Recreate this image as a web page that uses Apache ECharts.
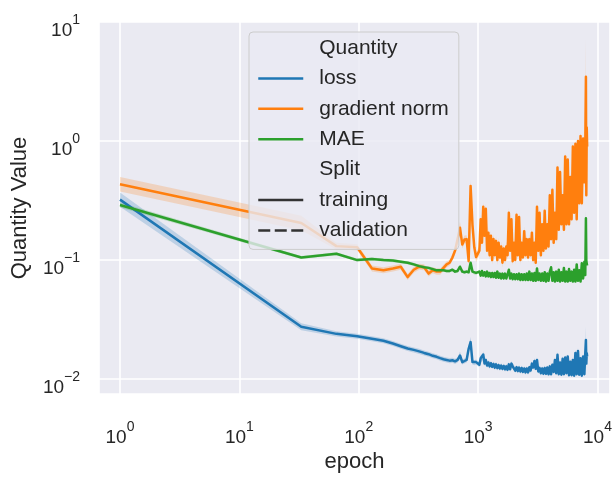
<!DOCTYPE html>
<html><head><meta charset="utf-8">
<script src="https://cdn.jsdelivr.net/npm/echarts@6/dist/echarts.min.js"></script>
<style>html,body{margin:0;padding:0;background:#fff}#c{width:616px;height:478px}</style>
</head><body><div id="c"></div>
<script>
// ---------------- data ----------------
const epochs = [
  1, 33, 65, 97, 129, 161, 193, 225, 257, 289,
  321, 353, 385, 417, 449, 481, 513, 545, 577, 609,
  641, 673, 705, 737, 769, 801, 833, 865, 897, 929,
  961, 1025, 1051, 1077, 1104, 1132, 1160, 1189, 1219, 1249,
  1280, 1312, 1345, 1379, 1413, 1449, 1485, 1522, 1560, 1599,
  1639, 1680, 1722, 1765, 1809, 1854, 1901, 1948, 1997, 2047,
  2098, 2150, 2204, 2259, 2316, 2374, 2433, 2494, 2556, 2620,
  2686, 2753, 2822, 2892, 2964, 3038, 3114, 3192, 3272, 3354,
  3438, 3524, 3612, 3702, 3795, 3890, 3987, 4087, 4189, 4294,
  4401, 4511, 4624, 4740, 4858, 4980, 5104, 5232, 5363, 5497,
  5634, 5775, 5919, 6067, 6219, 6374, 6534, 6697, 6865, 7036,
  7212, 7392, 7577, 7767, 7900, 8000, 8060, 8130, 8193
];
const lossValues = [
  0.322, 0.0275, 0.024, 0.0229, 0.0218, 0.021, 0.0199, 0.0189, 0.0181, 0.0176,
  0.0171, 0.0166, 0.0162, 0.0157, 0.0154, 0.015, 0.0147, 0.0145, 0.0143, 0.0144,
  0.0141, 0.0145, 0.0158, 0.0139, 0.0142, 0.0145, 0.018, 0.0205, 0.0139, 0.0137,
  0.0139, 0.0132, 0.015, 0.0145, 0.0161, 0.0135, 0.0145, 0.013, 0.0138, 0.0128,
  0.0136, 0.0127, 0.0134, 0.0125, 0.0133, 0.0124, 0.0131, 0.0123, 0.013, 0.0122,
  0.0129, 0.0121, 0.0128, 0.012, 0.0133, 0.0121, 0.0135, 0.0128, 0.0125, 0.0118,
  0.0126, 0.0117, 0.0125, 0.0116, 0.0124, 0.0115, 0.0123, 0.0114, 0.0123, 0.0114,
  0.0126, 0.0118, 0.0135, 0.0125, 0.0142, 0.0122, 0.0145, 0.0116, 0.0124, 0.0112,
  0.0123, 0.0111, 0.0124, 0.0111, 0.0125, 0.011, 0.0128, 0.011, 0.0132, 0.0115,
  0.0145, 0.0112, 0.016, 0.011, 0.0138, 0.0109, 0.0148, 0.011, 0.0152, 0.0112,
  0.0155, 0.0108, 0.014, 0.0108, 0.0145, 0.0107, 0.0166, 0.011, 0.0172, 0.0109,
  0.015, 0.0107, 0.0155, 0.011, 0.0165, 0.0213, 0.0135, 0.0165, 0.0155
];
const lossCI = [
  1.15, 1.07, 1.05, 1.05, 1.05, 1.05, 1.05, 1.05, 1.05, 1.05,
  1.05, 1.05, 1.05, 1.05, 1.05, 1.05, 1.05, 1.05, 1.05, 1.05,
  1.05, 1.05, 1.08, 1.05, 1.05, 1.05, 1.08, 1.1, 1.05, 1.05,
  1.05, 1.05, 1.06, 1.05, 1.07, 1.05, 1.05, 1.05, 1.05, 1.05,
  1.05, 1.05, 1.05, 1.05, 1.05, 1.05, 1.05, 1.05, 1.05, 1.05,
  1.05, 1.05, 1.05, 1.05, 1.05, 1.05, 1.05, 1.05, 1.05, 1.05,
  1.05, 1.05, 1.05, 1.05, 1.05, 1.05, 1.05, 1.05, 1.05, 1.05,
  1.05, 1.05, 1.05, 1.05, 1.06, 1.05, 1.06, 1.05, 1.05, 1.05,
  1.05, 1.05, 1.05, 1.05, 1.05, 1.05, 1.05, 1.05, 1.05, 1.05,
  1.06, 1.05, 1.07, 1.05, 1.06, 1.05, 1.06, 1.05, 1.06, 1.05,
  1.06, 1.05, 1.06, 1.05, 1.06, 1.05, 1.07, 1.05, 1.07, 1.05,
  1.06, 1.05, 1.06, 1.05, 1.1, 1.3, 1.1, 1.06, 1.06
];
const gradValues = [
  0.433, 0.205, 0.131, 0.128, 0.085, 0.082, 0.085, 0.088, 0.072, 0.083,
  0.088, 0.087, 0.077, 0.082, 0.08, 0.08, 0.086, 0.092, 0.095, 0.105,
  0.12, 0.15, 0.187, 0.135, 0.149, 0.15, 0.098, 0.42, 0.197, 0.128,
  0.106, 0.12, 0.22, 0.14, 0.28, 0.16, 0.27, 0.12, 0.17, 0.11,
  0.16, 0.1, 0.15, 0.11, 0.145, 0.1, 0.14, 0.105, 0.13, 0.095,
  0.125, 0.1, 0.13, 0.11, 0.25, 0.12, 0.22, 0.098, 0.14, 0.1,
  0.24, 0.11, 0.23, 0.1, 0.14, 0.105, 0.175, 0.11, 0.15, 0.105,
  0.15, 0.11, 0.17, 0.1, 0.14, 0.095, 0.28, 0.12, 0.25, 0.11,
  0.2, 0.12, 0.26, 0.125, 0.2, 0.13, 0.35, 0.15, 0.39, 0.14,
  0.25, 0.15, 0.6, 0.18, 0.55, 0.2, 0.35, 0.18, 0.74, 0.2,
  0.7, 0.2, 0.5, 0.22, 0.9, 0.25, 0.95, 0.22, 1.0, 0.3,
  1.1, 0.3, 1.05, 0.45, 0.9, 3.47, 0.35, 1.3, 0.9
];
const gradCI = [
  1.15, 1.15, 1.07, 1.06, 1.06, 1.06, 1.06, 1.06, 1.06, 1.06,
  1.06, 1.06, 1.06, 1.06, 1.06, 1.06, 1.06, 1.06, 1.06, 1.06,
  1.08, 1.08, 1.12, 1.08, 1.08, 1.08, 1.08, 1.12, 1.1, 1.08,
  1.1, 1.1, 1.1, 1.1, 1.1, 1.1, 1.1, 1.1, 1.1, 1.1,
  1.1, 1.1, 1.1, 1.1, 1.1, 1.1, 1.1, 1.1, 1.1, 1.1,
  1.1, 1.1, 1.1, 1.1, 1.1, 1.1, 1.1, 1.1, 1.1, 1.1,
  1.1, 1.1, 1.1, 1.1, 1.1, 1.1, 1.1, 1.1, 1.1, 1.1,
  1.1, 1.1, 1.1, 1.1, 1.1, 1.1, 1.1, 1.1, 1.1, 1.1,
  1.1, 1.1, 1.1, 1.1, 1.1, 1.1, 1.1, 1.1, 1.1, 1.1,
  1.1, 1.1, 1.1, 1.1, 1.1, 1.1, 1.1, 1.1, 1.1, 1.1,
  1.1, 1.1, 1.1, 1.1, 1.1, 1.1, 1.1, 1.1, 1.1, 1.1,
  1.12, 1.12, 1.1, 1.12, 1.1, 2.1, 1.2, 1.12, 1.12
];
const maeValues = [
  0.29, 0.105, 0.113, 0.10, 0.102, 0.10, 0.099, 0.097, 0.095, 0.092,
  0.089, 0.087, 0.086, 0.084, 0.082, 0.082, 0.082, 0.081, 0.081, 0.083,
  0.08, 0.081, 0.088, 0.08, 0.079, 0.08, 0.079, 0.095, 0.08, 0.078,
  0.078, 0.08, 0.074, 0.081, 0.074, 0.079, 0.073, 0.08, 0.073, 0.078,
  0.072, 0.078, 0.072, 0.078, 0.071, 0.08, 0.071, 0.077, 0.07, 0.077,
  0.07, 0.077, 0.07, 0.076, 0.083, 0.07, 0.077, 0.069, 0.076, 0.069,
  0.076, 0.069, 0.077, 0.068, 0.076, 0.068, 0.076, 0.068, 0.077, 0.068,
  0.08, 0.068, 0.077, 0.067, 0.078, 0.067, 0.085, 0.068, 0.077, 0.067,
  0.077, 0.067, 0.079, 0.066, 0.077, 0.067, 0.08, 0.087, 0.067, 0.079,
  0.066, 0.08, 0.067, 0.083, 0.066, 0.079, 0.067, 0.086, 0.066, 0.08,
  0.066, 0.084, 0.067, 0.08, 0.066, 0.083, 0.066, 0.092, 0.067, 0.082,
  0.066, 0.094, 0.07, 0.097, 0.075, 0.225, 0.1, 0.093, 0.09
];
const maeCI = [
  1.05, 1.03, 1.03, 1.03, 1.03, 1.03, 1.03, 1.03, 1.03, 1.03,
  1.03, 1.03, 1.03, 1.03, 1.03, 1.03, 1.03, 1.03, 1.03, 1.03,
  1.03, 1.03, 1.03, 1.03, 1.03, 1.03, 1.03, 1.03, 1.03, 1.03,
  1.03, 1.03, 1.03, 1.03, 1.03, 1.03, 1.03, 1.03, 1.03, 1.03,
  1.03, 1.03, 1.03, 1.03, 1.03, 1.03, 1.03, 1.03, 1.03, 1.03,
  1.03, 1.03, 1.03, 1.03, 1.03, 1.03, 1.03, 1.03, 1.03, 1.03,
  1.03, 1.03, 1.03, 1.03, 1.03, 1.03, 1.03, 1.03, 1.03, 1.03,
  1.03, 1.03, 1.03, 1.03, 1.03, 1.03, 1.03, 1.03, 1.03, 1.03,
  1.03, 1.03, 1.03, 1.03, 1.03, 1.03, 1.03, 1.03, 1.03, 1.03,
  1.03, 1.03, 1.03, 1.03, 1.03, 1.03, 1.03, 1.03, 1.03, 1.03,
  1.03, 1.03, 1.03, 1.03, 1.03, 1.03, 1.03, 1.03, 1.03, 1.03,
  1.03, 1.05, 1.03, 1.05, 1.04, 1.2, 1.05, 1.04, 1.04
];
const quantities = ['loss', 'gradient norm', 'MAE'];
const splits = ['training', 'validation'];
const xRange = [0.667, 12730];
const yRange = [0.0075, 10];

// ---------------- styling ----------------
const FONT = "'Liberation Sans', Arial, Helvetica, sans-serif";
const TXT = '#262626';
const colors = { 'loss': '#1f77b4', 'gradient norm': '#ff7f0e', 'MAE': '#2ca02c' };

function powLabel(v) {
  const e = Math.log10(v);
  const r = Math.round(e);
  if (Math.abs(e - r) > 1e-6) return '';
  return '{b|10}{s|' + (r < 0 ? '\u2212' : '') + Math.abs(r) + '}';
}
const richLab = {
  b: { fontSize: 19, lineHeight: 20, color: TXT, fontFamily: FONT, verticalAlign: 'bottom' },
  s: { fontSize: 14, lineHeight: 14, color: TXT, fontFamily: FONT, verticalAlign: 'bottom', padding: [0, 0, 13, 0] }
};

function band(name, mean, ci) {
  const lo = mean.map((m, i) => m / ci[i]);
  const hi = mean.map((m, i) => m * ci[i]);
  const color = colors[name];
  return {
    type: 'custom', name: name + ' band', silent: true, clip: true,
    data: epochs.map((e, i) => [e, lo[i], hi[i]]),
    encode: { x: 0, y: [1, 2] },
    renderItem: function (params, api) {
      if (params.dataIndex !== 0) return null;
      const pts = [];
      for (let i = 0; i < epochs.length; i++) pts.push(api.coord([epochs[i], hi[i]]));
      for (let i = epochs.length - 1; i >= 0; i--) pts.push(api.coord([epochs[i], lo[i]]));
      return { type: 'polygon', shape: { points: pts }, style: { fill: color, opacity: 0.22 } };
    }
  };
}
function line(name, mean) {
  return {
    type: 'line', name: name, symbol: 'none', clip: true, sampling: null,
    data: epochs.map((e, i) => [e, mean[i]]),
    lineStyle: { width: 2.5, color: colors[name], join: 'round' },
    itemStyle: { color: colors[name] }
  };
}
function dummy(name, extra) {
  return Object.assign({ type: 'line', name: name, data: [], symbol: 'none',
    lineStyle: { width: 2.3, color: '#333' }, itemStyle: { color: '#333' } }, extra || {});
}

const series = [
  band('loss', lossValues, lossCI), line('loss', lossValues),
  band('gradient norm', gradValues, gradCI), line('gradient norm', gradValues),
  band('MAE', maeValues, maeCI), line('MAE', maeValues),
  dummy('Quantity'), dummy('Split'),
  dummy(splits[0]),
  dummy(splits[1], { lineStyle: { width: 2.3, color: '#333', type: [12, 4.5] } })
];

const chart = echarts.init(document.getElementById('c'), null, { renderer: 'canvas' });
chart.setOption({
  animation: false,
  backgroundColor: '#ffffff',
  textStyle: { fontFamily: FONT, color: TXT },
  grid: { left: 99, right: 6, top: 22, bottom: 75, show: true, backgroundColor: '#EAEAF2', borderWidth: 0 },
  xAxis: {
    type: 'log', logBase: 10, min: xRange[0], max: xRange[1],
    name: 'epoch', nameLocation: 'middle', nameGap: 57, nameMoveOverlap: false,
    nameTextStyle: { fontSize: 22, color: TXT, fontFamily: FONT },
    axisLine: { show: false }, axisTick: { show: false },
    splitLine: { show: true, lineStyle: { color: '#ffffff', width: 1.6 } },
    minorSplitLine: { show: false },
    axisLabel: { margin: 33, formatter: powLabel, rich: richLab, showMinLabel: false, showMaxLabel: false }
  },
  yAxis: {
    type: 'log', logBase: 10, min: yRange[0], max: yRange[1],
    name: 'Quantity Value', nameLocation: 'middle', nameGap: 68,
    nameTextStyle: { fontSize: 22, color: TXT, fontFamily: FONT },
    axisLine: { show: false }, axisTick: { show: false },
    splitLine: { show: true, lineStyle: { color: '#ffffff', width: 1.6 } },
    axisLabel: { margin: 19, padding: [16, 0, 0, 0], formatter: powLabel, rich: richLab, showMinLabel: false }
  },
  legend: {
    left: 249, top: 32, orient: 'vertical', selectedMode: false,
    padding: [5, 10, 8, 8], itemGap: 8.4, itemWidth: 45, itemHeight: 14,
    backgroundColor: 'rgba(234,234,242,0.8)', borderColor: '#cccccc', borderWidth: 1, borderRadius: 4,
    itemStyle: { opacity: 0 },
    lineStyle: { width: 2.5 },
    textStyle: { fontSize: 21, lineHeight: 22, color: TXT, fontFamily: FONT, padding: [0, 0, 0, 11] },
    data: [
      { name: 'Quantity', icon: 'none' },
      { name: quantities[0] }, { name: quantities[1] }, { name: quantities[2] },
      { name: 'Split', icon: 'none' },
      { name: splits[0] }, { name: splits[1] }
    ]
  },
  series: series
});
</script>
</body></html>
